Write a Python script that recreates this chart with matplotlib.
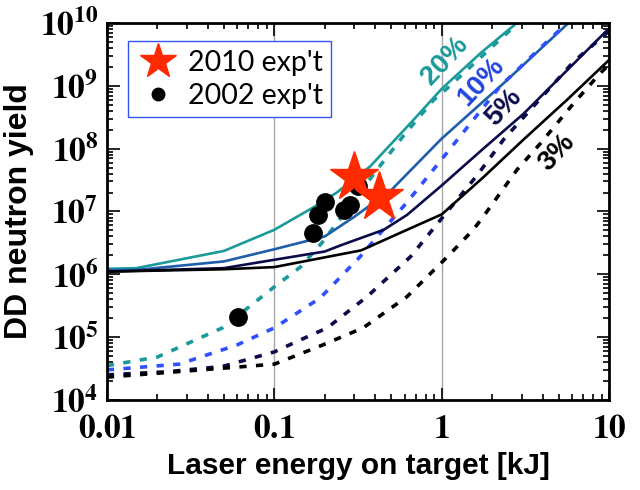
import math

import matplotlib
matplotlib.use("Agg")
import matplotlib.pyplot as plt
from matplotlib.ticker import FixedLocator, FuncFormatter, LogLocator, NullFormatter

plt.rcParams.update({"mathtext.fontset": "stix", "font.family": "DejaVu Sans"})

TEAL = "#1a9a9a"
BLUE = "#1f5ea8"
BLUE_D = "#3050ff"
NAVY = "#0b0b4a"
BLACK = "#000000"
RED = "#ff2a00"

# ---- model curves: solid and dashed, per efficiency ---------------------------
e20 = [0.01, 0.015, 0.05, 0.1, 0.17, 0.236, 0.373, 0.68, 1.0, 1.7, 2.8]
y20 = [1.22e6, 1.25e6, 2.35e6, 5.1e6, 1.15e7, 2.0e7, 5.2e7, 2.9e8, 9e8, 3.3e9, 1e10]
e10 = [0.01, 0.015, 0.05, 0.1, 0.2, 0.3, 0.5, 1.0, 2.34, 5.7]
y10 = [1.17e6, 1.17e6, 1.6e6, 2.5e6, 4.0e6, 8.2e6, 2.2e7, 1.45e8, 1.1e9, 1e10]
e5 = [0.01, 0.05, 0.1, 0.2, 0.25, 0.45, 0.62, 1.0, 1.77, 3.08, 10]
y5 = [1.1e6, 1.25e6, 1.7e6, 2.3e6, 2.9e6, 5.1e6, 8.8e6, 2.6e7, 1e8, 3.6e8, 8.3e9]
e3 = [0.01, 0.05, 0.1, 0.33, 0.62, 1.0, 1.77, 3.08, 5.6, 10]
y3 = [1.1e6, 1.2e6, 1.3e6, 2.4e6, 5.1e6, 9e6, 3.5e7, 1.4e8, 6e8, 2.6e9]

e20d = [0.01, 0.02, 0.049, 0.1, 0.143, 0.193, 0.42, 0.59, 0.89, 1.07, 1.9, 2.85]
y20d = [3.5e4, 4.8e4, 1.4e5, 6.3e5, 1.3e6, 3.2e6, 5e7, 1.6e8, 5.9e8, 9e8, 3.7e9, 1e10]
e10d = [0.01, 0.027, 0.06, 0.1, 0.188, 0.325, 0.446, 0.62, 1.0, 2.23, 3.87, 5.6]
y10d = [3.0e4, 3.7e4, 7.5e4, 1.4e5, 4.2e5, 1.9e6, 5.1e6, 1.4e7, 6.8e7, 9.8e8, 4e9, 1e10]
e5d = [0.01, 0.023, 0.049, 0.1, 0.143, 0.207, 0.358, 0.65, 1.02, 1.63, 2.34, 6.1, 10]
y5d = [2.5e4, 2.8e4, 3.4e4, 5.8e4, 9e4, 1.4e5, 4.4e5, 1.9e6, 8.3e6, 3.8e7, 1.4e8, 2.4e9, 7.5e9]
e3d = [0.01, 0.05, 0.1, 0.195, 0.339, 0.62, 1.08, 1.54, 1.77, 2.81, 3.87, 6.1, 8.85, 10]
y3d = [2.3e4, 3.2e4, 3.7e4, 7.5e4, 1.4e5, 4.4e5, 1.9e6, 5.1e6, 8.3e6, 4.6e7, 1.2e8, 5.2e8, 1.6e9, 2.2e9]

# ---- experiments -------------------------------------------------------------
e2010 = [0.30, 0.42]
y2010 = [3.5e7, 1.7e7]
e2002 = [0.17, 0.183, 0.20, 0.26, 0.284, 0.315, 0.0607]
y2002 = [4.6e6, 8.8e6, 1.4e7, 1.05e7, 1.26e7, 2.5e7, 2.1e5]

pct_labels = ["20%", "10%", "5%", "3%"]
pct_e = [1.05, 1.72, 2.35, 4.9]
pct_y = [2.5e9, 1.15e9, 4.6e8, 8.6e7]
pct_col = [TEAL, "#2244dd", NAVY, BLACK]

fig = plt.figure(figsize=(6.4, 4.9), dpi=100)
ax = fig.add_axes([0.167, 0.184, 0.785, 0.769])
ax.set_xscale("log"); ax.set_yscale("log")
ax.set_xlim(0.01, 10); ax.set_ylim(1e4, 1e10)

for x in (0.1, 1):
    ax.axvline(x, color="#a8a8a8", lw=1, zorder=1)

curves = [(e20, y20, e20d, y20d, TEAL, TEAL), (e10, y10, e10d, y10d, BLUE, BLUE_D),
          (e5, y5, e5d, y5d, NAVY, NAVY), (e3, y3, e3d, y3d, BLACK, BLACK)]
for es, ys, ed, yd, cs, cd in curves:
    ax.plot(es, ys, color=cs, lw=1.9, zorder=2)
    ax.plot(ed, yd, color=cd, lw=2.6, dashes=(2.0, 2.6), zorder=2)

ax.plot(e2002, y2002, "o", color="black", ms=12.5, ls="none", zorder=3, label="2002 exp't")
ax.plot(e2010, y2010, "*", color=RED, ms=37, ls="none", zorder=4, mec=RED, label="2010 exp't")

for t, x, y, c in zip(pct_labels, pct_e, pct_y, pct_col):
    ax.text(x, y, t, color=c, fontweight="bold", fontsize=20, family="Liberation Sans",
            ha="center", va="center", rotation=47)

h, l = ax.get_legend_handles_labels()
leg = ax.legend(h[::-1], l[::-1], loc="upper left", bbox_to_anchor=(0.042, 0.952), borderaxespad=0,
                fancybox=False, framealpha=1, edgecolor="#3355ee", prop={"family": "Lato", "size": 20.5},
                handletextpad=0.3, borderpad=0.3, labelspacing=0.25, handlelength=1.5, markerscale=0.72)
leg.get_frame().set_linewidth(1.0)

ax.xaxis.set_major_locator(FixedLocator([0.01, 0.1, 1, 10]))
ax.xaxis.set_major_formatter(FuncFormatter(lambda v, p: r"$\mathbf{%g}$" % v))
ax.yaxis.set_major_locator(LogLocator(base=10, numticks=10))
ax.yaxis.set_major_formatter(FuncFormatter(lambda v, p: r"$\mathbf{10^{%d}}$" % round(math.log10(v))))
ax.yaxis.set_minor_locator(LogLocator(base=10, subs=range(2, 10), numticks=20))
ax.xaxis.set_minor_formatter(NullFormatter()); ax.yaxis.set_minor_formatter(NullFormatter())
ax.tick_params(which="both", direction="in", top=True, right=True, width=1.2, labelsize=24)
ax.tick_params(which="major", length=9)
ax.tick_params(which="minor", length=4.5)
ax.tick_params(axis="x", pad=9)
ax.tick_params(axis="y", pad=6)
for s in ax.spines.values():
    s.set_linewidth(2)

ax.set_xlabel("Laser energy on target [kJ]", fontsize=21.5, fontweight="bold", family="Liberation Sans", labelpad=5)
ax.set_ylabel("DD neutron yield", fontsize=23, fontweight="bold", family="Liberation Sans", labelpad=4)

fig.savefig("out.png", dpi=100)
